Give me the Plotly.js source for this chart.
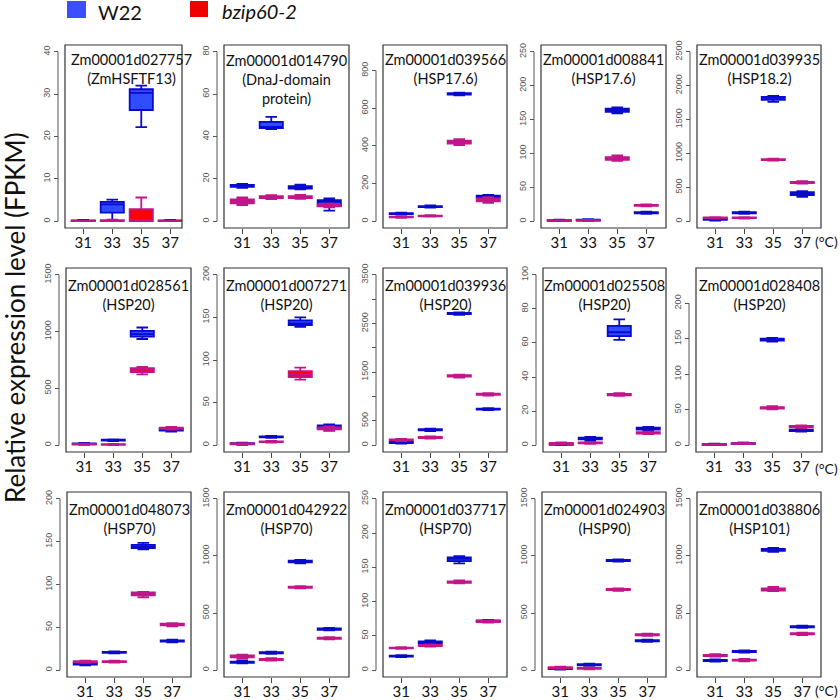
<!DOCTYPE html>
<html><head><meta charset="utf-8">
<script src="https://cdn.plot.ly/plotly-3.0.1.min.js"></script>
<style>html,body{margin:0;padding:0;background:#fff}</style>
</head><body><div id="chart" style="width:840px;height:700px"></div>
<script>
// ---------- data ----------
const temps = ['31', '33', '35', '37'];
const geneIds = ['Zm00001d027757','Zm00001d014790','Zm00001d039566','Zm00001d008841','Zm00001d039935',
  'Zm00001d028561','Zm00001d007271','Zm00001d039936','Zm00001d025508','Zm00001d028408',
  'Zm00001d048073','Zm00001d042922','Zm00001d037717','Zm00001d024903','Zm00001d038806'];
const geneNotes = ['(ZmHSFTF13)','(DnaJ-domain<br>protein)','(HSP17.6)','(HSP17.6)','(HSP18.2)',
  '(HSP20)','(HSP20)','(HSP20)','(HSP20)','(HSP20)',
  '(HSP70)','(HSP70)','(HSP70)','(HSP90)','(HSP101)'];
const seriesNames = ['W22', 'bzip60-2'];

// replicate FPKM values, per temperature (31,33,35,37)
const w22_027757 = [[0,0.1,0.3],[0.1,4.0,5.1],[22.2,30.3,32.0],[0,0.1,0.3]];
const bz_027757  = [[0,0.05,0.15],[0,0.1,0.4],[0,0.05,5.6],[0,0.05,0.15]];
const w22_014790 = [[15.8,16.6,17.6],[43.5,44.5,49.3],[15.0,15.8,17.3],[5.0,9.2,10.8]];
const bz_014790  = [[7.6,9.3,11.2],[10.5,11.3,12.3],[10.6,11.2,12.4],[6.5,7.5,8.3]];
const w22_039566 = [[36,40,46],[72,77,84],[668,677,683],[122,132,140]];
const bz_039566  = [[18,22,27],[24,28,32],[404,420,436],[97,114,128]];
const w22_008841 = [[0.5,1,2.5],[0.8,1.5,3],[159,164,168],[11,12.5,14]];
const bz_008841  = [[0,0.5,1.5],[0.3,1,2],[89,92,97],[22,23.5,25]];
const w22_039935 = [[10,30,45],[110,125,140],[1762,1820,1850],[360,410,445]];
const bz_039935  = [[40,50,60],[40,50,60],[895,910,925],[555,570,590]];
const w22_028561 = [[5,12,20],[35,44,52],[935,978,1036],[120,135,150]];
const bz_028561  = [[2,8,14],[0,6,12],[624,665,690],[138,148,160]];
const w22_007271 = [[0.5,2,3],[8.5,9.8,11],[139,143,150],[17,22,24.5]];
const bz_007271  = [[0.5,1.5,2.5],[3,4,5],[77,83,91],[17,20,22]];
const w22_039936 = [[30,55,75],[290,315,340],[2680,2706,2730],[720,740,760]];
const bz_039936  = [[85,109,130],[135,158,180],[1390,1424,1450],[1020,1048,1070]];
const w22_025508 = [[0,0.4,1],[3,3.9,4.8],[61.8,66.3,73.8],[8.6,9.7,10.8]];
const bz_025508  = [[0.4,1,1.6],[0.8,1.4,2],[29,29.6,30.6],[6.5,7.2,8]];
const w22_028408 = [[0,1,2],[1.5,2.4,3.5],[146,149,151],[19,21,23]];
const bz_028408  = [[0,0.5,1.5],[1.5,2.5,3.5],[50.5,52.5,55],[24,26,28]];
const w22_048073 = [[5.5,7.5,9.5],[19.5,20.8,22],[141,144,148.6],[32.5,34,35.5]];
const bz_048073  = [[8.5,10,11],[8.8,10,11.2],[85,89.8,91.5],[51,53.7,55]];
const w22_042922 = [[60,70,80],[142,152,162],[935,951,965],[348,359,370]];
const bz_042922  = [[100,123,135],[84,94,104],[716,726,736],[270,280,290]];
const w22_037717 = [[19,20.6,22],[38,40.6,43.5],[155.9,162.6,166.5],[70.5,72,73.5]];
const bz_037717  = [[31,32.3,33.5],[34.5,36,37.5],[126.5,128.4,131],[69.5,71,72.5]];
const w22_024903 = [[5,15,25],[37,47,57],[950,960,970],[247,257,267]];
const bz_024903  = [[12,21,30],[6,15,24],[695,706,716],[300,310,320]];
const w22_038806 = [[75,85,95],[154,164,174],[1035,1053,1070],[370,380,390]];
const bz_038806  = [[119,129,139],[78,88,98],[692,703,730],[308,318,328]];

const w22Sets = [w22_027757,w22_014790,w22_039566,w22_008841,w22_039935,w22_028561,w22_007271,w22_039936,
  w22_025508,w22_028408,w22_048073,w22_042922,w22_037717,w22_024903,w22_038806];
const bzSets = [bz_027757,bz_014790,bz_039566,bz_008841,bz_039935,bz_028561,bz_007271,bz_039936,
  bz_025508,bz_028408,bz_048073,bz_042922,bz_037717,bz_024903,bz_038806];

// y axis limits and ticks
const yLim     = [40, 80, 900, 250, 2500, 1500, 200, 3500, 100, 240, 200, 1500, 250, 1500, 1500];
const yTickMax = [40, 80, 800, 250, 2500, 1500, 200, 3500, 100, 200, 200, 1500, 250, 1500, 1500];
const yStep    = [10, 20, 200, 50, 500, 500, 50, 500, 20, 50, 50, 500, 50, 500, 500];
const yHidden  = [[], [], [], [], [], [], [], [1000, 2000, 3000], [], [], [], [], [], [], []];

// ---------- layout geometry (pixels) ----------
const W = 840, H = 700;
const rowTop = [45, 268, 492], rowBot = [228, 452, 677];
const colL = [[65, 224, 383, 541, 697], [66, 224, 383, 543, 696], [67, 224, 383, 542, 697]];
const colR = [[182, 349, 507, 666, 821], [191, 349, 507, 666, 822], [191, 349, 507, 666, 821]];
const titleOff = [24, 27, 26.5];
const tickLabY = [242, 468, 690];
const catPx = 29;      // pixels per category
const xLo = -0.63;     // left padding in category units

const BLUE_FILL = '#2f4dff', BLUE_LINE = '#0a0acc';
const RED_FILL = '#ff0000', RED_LINE = '#c0168a';

const data = [], shapes = [], annotations = [];
const layout = {
  width: W, height: H, margin: {l: 0, r: 0, t: 0, b: 0},
  paper_bgcolor: '#fff', plot_bgcolor: 'rgba(0,0,0,0)',
  showlegend: false, boxmode: 'overlay',
  font: {family: 'Lato, sans-serif', color: '#111'}
};

function flatX(reps) { const o = []; reps.forEach((r, i) => r.forEach(() => o.push(temps[i]))); return o; }
function flatY(reps) { const o = []; reps.forEach(r => r.forEach(v => o.push(v))); return o; }

for (let p = 0; p < 15; p++) {
  const r = Math.floor(p / 5), c = p % 5, n = p + 1;
  const xa = n === 1 ? 'x' : 'x' + n, ya = n === 1 ? 'y' : 'y' + n;
  const L = colL[r][c], R = colR[r][c], T = rowTop[r], B = rowBot[r];
  const axisX = (L - 7) / W;

  [[w22Sets[p], BLUE_FILL, BLUE_LINE, seriesNames[0]], [bzSets[p], RED_FILL, RED_LINE, seriesNames[1]]].forEach(s => {
    data.push({
      type: 'box', name: s[3], x: flatX(s[0]), y: flatY(s[0]), xaxis: xa, yaxis: ya,
      boxpoints: false, quartilemethod: 'inclusive', width: 0.8, whiskerwidth: 0.5,
      fillcolor: s[1], line: {color: s[2], width: 1.8}, hoverinfo: 'skip'
    });
  });

  const tv = [], tt = [];
  for (let v = 0; v <= yTickMax[p] + 1e-9; v += yStep[p]) { tv.push(v); tt.push(yHidden[p].includes(v) ? '' : String(v)); }

  layout[n === 1 ? 'xaxis' : 'xaxis' + n] = {
    domain: [L / W, R / W], anchor: ya, type: 'category', categoryorder: 'array', categoryarray: temps,
    range: [xLo, xLo + (R - L) / catPx], showgrid: false, zeroline: false, showline: false,
    ticks: 'outside', ticklen: 5, tickwidth: 1, tickcolor: '#444', ticklabelstandoff: -4,
    tickfont: {family: 'Lato, sans-serif', size: 15, color: '#111'}, fixedrange: true
  };
  layout[n === 1 ? 'yaxis' : 'yaxis' + n] = {
    domain: [1 - B / H, 1 - T / H], anchor: 'free', position: axisX, side: 'left',
    range: [-0.04 * yLim[p], 1.04 * yLim[p]], tickmode: 'array', tickvals: tv, ticktext: tt,
    ticks: 'outside', ticklen: 4, tickwidth: 1, tickcolor: '#555', tickangle: -90,
    tickfont: {family: 'Liberation Sans, Arial, sans-serif', size: 9, color: '#555'},
    showgrid: false, zeroline: false, showline: false, fixedrange: true
  };

  // plot frame
  shapes.push({type: 'rect', xref: xa + ' domain', yref: ya + ' domain', x0: 0, x1: 1, y0: 0, y1: 1,
    line: {color: '#333', width: 1.2}, fillcolor: 'rgba(0,0,0,0)', layer: 'above'});
  // y axis line between first and last tick
  shapes.push({type: 'line', xref: 'paper', yref: ya, x0: axisX, x1: axisX, y0: 0, y1: yTickMax[p],
    line: {color: '#555', width: 1}});

  // gene title
  const cx = p === 0 ? 131 : (L + R) / 2;
  const cy = p === 1 ? 79 : T + titleOff[r];
  annotations.push({xref: 'paper', yref: 'paper', x: cx / W, y: 1 - cy / H, xanchor: 'center', yanchor: 'middle',
    text: geneIds[p] + '<br>' + geneNotes[p], showarrow: false,
    font: {family: 'Lato, sans-serif', size: 14.5, color: '#111'}});

  if (c === 4) {
    annotations.push({xref: 'paper', yref: 'paper', x: 813 / W, y: 1 - tickLabY[r] / H, xanchor: 'left', yanchor: 'middle',
      text: '(°C)', showarrow: false, font: {family: 'Lato, sans-serif', size: 14, color: '#111'}});
  }
}

// legend
shapes.push({type: 'rect', xref: 'paper', yref: 'paper', x0: 67 / W, x1: 86 / W, y0: 1 - 18 / H, y1: 1 - 1 / H,
  line: {width: 0}, fillcolor: '#3a4fff'});
shapes.push({type: 'rect', xref: 'paper', yref: 'paper', x0: 190 / W, x1: 208 / W, y0: 1 - 17 / H, y1: 1 - 1 / H,
  line: {width: 0}, fillcolor: '#ee0000'});
annotations.push({xref: 'paper', yref: 'paper', x: 96 / W, y: 1 - 12 / H, xanchor: 'left', yanchor: 'middle',
  text: seriesNames[0], showarrow: false, font: {family: 'Lato, sans-serif', size: 20, color: '#111'}});
annotations.push({xref: 'paper', yref: 'paper', x: 220 / W, y: 1 - 11 / H, xanchor: 'left', yanchor: 'middle',
  text: '<i>' + seriesNames[1] + '</i>', showarrow: false, font: {family: 'Lato, sans-serif', size: 20, color: '#111'}});

// y title
annotations.push({xref: 'paper', yref: 'paper', x: 15 / W, y: 1 - 318 / H, xanchor: 'center', yanchor: 'middle',
  text: 'Relative expression level (FPKM)', textangle: -90, showarrow: false,
  font: {family: 'Lato, sans-serif', size: 26, color: '#111'}});

layout.shapes = shapes;
layout.annotations = annotations;

Plotly.newPlot('chart', data, layout, {displayModeBar: false, staticPlot: true});
</script>
</body></html>
